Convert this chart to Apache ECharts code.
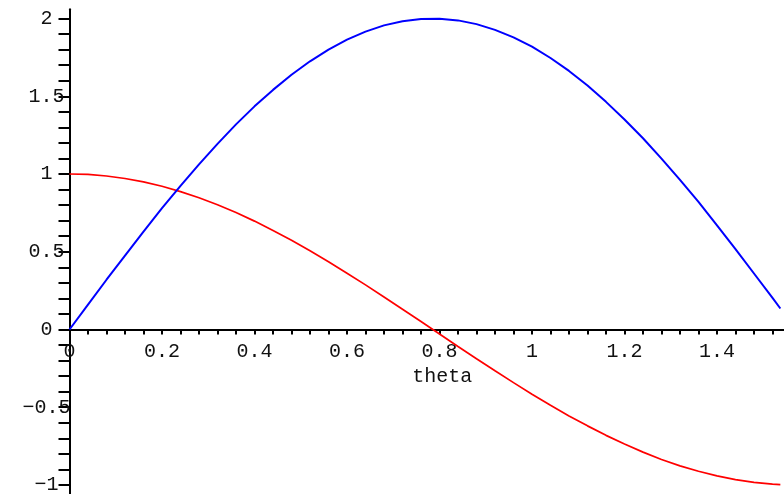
<!DOCTYPE html>
<html>
<head>
<meta charset="utf-8">
<script src="https://cdn.jsdelivr.net/npm/echarts@6/dist/echarts.min.js"></script>
<style>
html,body{margin:0;padding:0;background:#fff;}
#chart{width:784px;height:494px;}
</style>
</head>
<body>
<div id="chart"></div>
<script>
const theta = [0,0.04,0.08,0.12,0.16,0.2,0.24,0.28,0.32,0.36,0.4,0.44,0.48,0.52,0.56,0.6,0.64,0.68,0.72,0.76,0.8,0.84,0.88,0.92,0.96,1,1.04,1.08,1.12,1.16,1.2,1.24,1.28,1.32,1.36,1.4,1.44,1.48,1.52,1.537];
const blueValues = [0,0.16,0.32,0.475,0.63,0.78,0.924,1.062,1.194,1.319,1.435,1.541,1.638,1.725,1.8,1.864,1.916,1.956,1.983,1.997,1.999,1.988,1.964,1.927,1.879,1.819,1.746,1.663,1.569,1.464,1.351,1.23,1.099,0.962,0.821,0.67,0.517,0.36,0.203,0.135];
const redValues = [1,0.997,0.987,0.971,0.949,0.921,0.887,0.847,0.802,0.752,0.697,0.637,0.574,0.506,0.436,0.362,0.287,0.209,0.13,0.051,-0.029,-0.109,-0.188,-0.266,-0.342,-0.416,-0.488,-0.556,-0.62,-0.681,-0.737,-0.789,-0.836,-0.877,-0.912,-0.942,-0.966,-0.984,-0.995,-0.998];
const xTickLabels = ['0','0.2','0.4','0.6','0.8','1','1.2','1.4'];
const yTickLabels = ['−1','−0.5','0','0.5','1','1.5','2'];
const xAxisTitle = 'theta';

function pair(xs, ys){ return xs.map((x,i)=>[x, ys[i]]); }
function near(v, step){ return Math.abs(v/step - Math.round(v/step)) < 1e-6; }
function fmtX(v){
  if(!near(v,0.2)) return '';
  const s = (Math.round(v*10)/10).toString();
  return xTickLabels.indexOf(s) >= 0 ? s : '';
}
function fmtY(v){
  if(!near(v,0.5)) return '';
  const r = Math.round(v*2)/2;
  const s = (r < 0 ? '−' + Math.abs(r) : '' + r);
  return yTickLabels.indexOf(s) >= 0 ? s : '';
}
const font = 'Liberation Mono';
const yMin = -1.1, yMax = 2.06;
const gridTop = 9.2, gridHeight = 491.3;
// offset that brings the bottom x axis up to the y = 0 line
const zeroOffset = -gridHeight * (0 - yMin) / (yMax - yMin);
const chart = echarts.init(document.getElementById('chart'), null, {renderer:'canvas'});
chart.setOption({
  animation: false,
  backgroundColor: '#ffffff',
  grid: {left: 69.5, top: gridTop, width: 721.5, height: gridHeight, containLabel: false, outerBoundsMode: 'none'},
  xAxis: {
    type: 'value', min: 0, max: 1.56, interval: 0.04, position: 'bottom', offset: zeroOffset,
    name: xAxisTitle, nameLocation: 'middle', nameGap: 37,
    nameTextStyle: {fontFamily: font, fontSize: 20, color: '#111', padding: [0,0,0,24]},
    axisLine: {show: true, onZero: false, lineStyle: {color: '#000', width: 2}},
    axisTick: {show: true, inside: false, length: 5, lineStyle: {color: '#000', width: 2}},
    axisLabel: {show: true, formatter: fmtX, margin: 12, fontFamily: font, fontSize: 20, color: '#111', showMaxLabel: false},
    splitLine: {show: false}
  },
  yAxis: {
    type: 'value', min: yMin, max: yMax, interval: 0.1,
    axisLine: {show: true, onZero: false, lineStyle: {color: '#000', width: 2}},
    axisTick: {show: true, inside: false, length: 11, lineStyle: {color: '#000', width: 2}},
    axisLabel: {show: true, formatter: fmtY, margin: 23, align: 'center', fontFamily: font, fontSize: 20, color: '#111', showMaxLabel: false},
    splitLine: {show: false}
  },
  series: [
    {type: 'line', data: pair(theta, redValues), showSymbol: false, symbol: 'none',
     lineStyle: {color: '#ff0000', width: 1.7}, itemStyle: {color: '#ff0000'}, z: 3},
    {type: 'line', data: pair(theta, blueValues), showSymbol: false, symbol: 'none',
     lineStyle: {color: '#0000ff', width: 2}, itemStyle: {color: '#0000ff'}, z: 4}
  ]
});
</script>
</body>
</html>
